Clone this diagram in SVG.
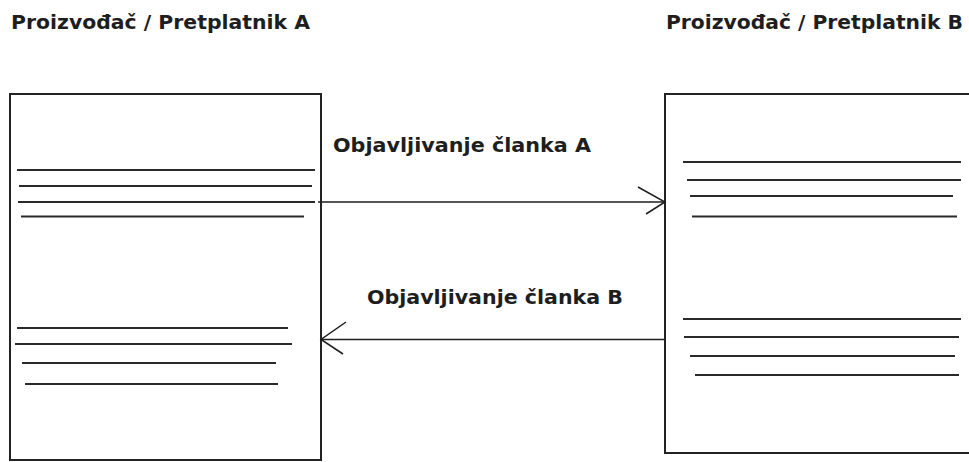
<svg xmlns="http://www.w3.org/2000/svg" width="969" height="462" viewBox="0 0 969 462">
  <style>
    .title { font-family: "DejaVu Sans", Verdana, sans-serif; font-weight: bold; font-size: 19px; fill: #1e1e1e; }
    .box { fill: #ffffff; stroke: #222222; stroke-width: 2; }
    .row { stroke: #2a2a2a; stroke-width: 2; }
    .msg { stroke: #1e1e1e; stroke-width: 1.5; fill: none; }
  </style>
  <rect x="0" y="0" width="969" height="462" fill="#ffffff"/>

  <!-- Node A: producer / subscriber A -->
  <g id="node-a">
    <text class="title" x="11" y="29" textLength="299" lengthAdjust="spacingAndGlyphs">Proizvođač / Pretplatnik A</text>
    <rect class="box" x="10" y="94" width="311" height="366"/>
    <line class="row" x1="17" y1="170" x2="315" y2="170"/>
    <line class="row" x1="19" y1="186" x2="312" y2="186"/>
    <line class="row" x1="18" y1="202" x2="315" y2="202"/>
    <line class="row" x1="21" y1="216.5" x2="304" y2="216.5"/>
    <line class="row" x1="17" y1="328" x2="288" y2="328"/>
    <line class="row" x1="15" y1="344" x2="292" y2="344"/>
    <line class="row" x1="22" y1="363" x2="276" y2="363"/>
    <line class="row" x1="25" y1="384" x2="278" y2="384"/>
  </g>

  <!-- Node B: producer / subscriber B -->
  <g id="node-b">
    <text class="title" x="666" y="29" textLength="297" lengthAdjust="spacingAndGlyphs">Proizvođač / Pretplatnik B</text>
    <rect class="box" x="665" y="94" width="330" height="359"/>
    <line class="row" x1="683" y1="162" x2="961" y2="162"/>
    <line class="row" x1="687" y1="180" x2="961" y2="180"/>
    <line class="row" x1="690" y1="196" x2="953" y2="196"/>
    <line class="row" x1="692" y1="216.5" x2="957" y2="216.5"/>
    <line class="row" x1="683" y1="319" x2="961" y2="319"/>
    <line class="row" x1="684" y1="337" x2="959" y2="337"/>
    <line class="row" x1="690" y1="356" x2="955" y2="356"/>
    <line class="row" x1="695" y1="375" x2="959" y2="375"/>
  </g>

  <!-- Connectors: article publishing in both directions -->
  <g id="connectors">
    <g id="publish-a">
      <line class="msg" x1="318" y1="202" x2="665" y2="202"/>
      <polyline class="msg" points="638,187 665,202 646,214"/>
      <text class="title" x="333" y="152" textLength="258" lengthAdjust="spacingAndGlyphs">Objavljivanje članka A</text>
    </g>
    <g id="publish-b">
      <line class="msg" x1="665" y1="339.5" x2="321" y2="339.5"/>
      <polyline class="msg" points="346,322 321,339.5 343,354"/>
      <text class="title" x="367" y="304" textLength="256" lengthAdjust="spacingAndGlyphs">Objavljivanje članka B</text>
    </g>
  </g>
</svg>
